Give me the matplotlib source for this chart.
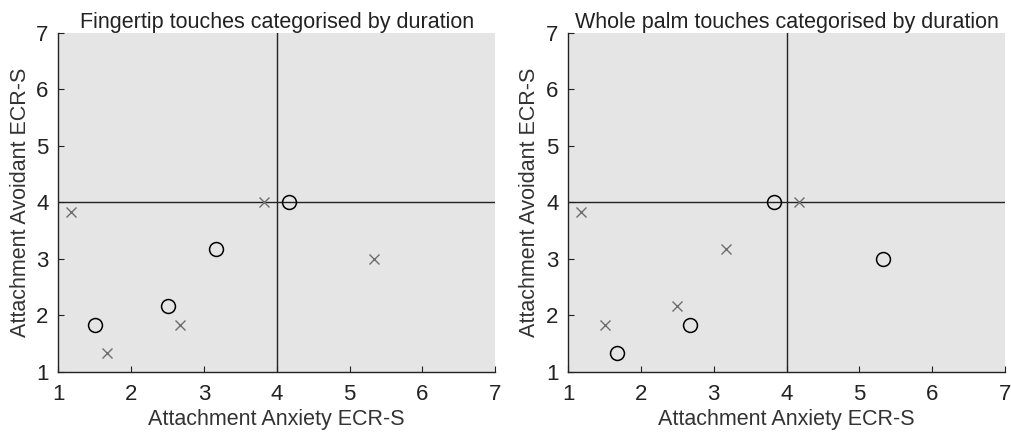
import matplotlib
matplotlib.use("Agg")
from matplotlib import pyplot as plt

plt.rcParams['font.family'] = ['Liberation Sans', 'DejaVu Sans']

# fingertip touches
finger_o_x = [1.5, 2.5, 3.17, 4.17]
finger_o_y = [1.83, 2.17, 3.17, 4.0]
finger_x_x = [1.17, 1.67, 2.67, 3.83, 5.33]
finger_x_y = [3.83, 1.33, 1.83, 4.0, 3.0]

# whole palm touches
palm_o_x = [1.67, 2.67, 3.83, 5.33]
palm_o_y = [1.33, 1.83, 4.0, 3.0]
palm_x_x = [1.17, 1.5, 2.5, 3.17, 4.17]
palm_x_y = [3.83, 1.83, 2.17, 3.17, 4.0]

titles = ["Fingertip touches categorised by duration",
          "Whole palm touches categorised by duration"]
ticks = [1, 2, 3, 4, 5, 6, 7]

fig = plt.figure(figsize=(10.11, 4.34), dpi=100)
ax1 = fig.add_axes([0.0577, 0.1435, 0.432, 0.781])
ax2 = fig.add_axes([0.562, 0.1435, 0.432, 0.781])

data = [(finger_o_x, finger_o_y, finger_x_x, finger_x_y),
        (palm_o_x, palm_o_y, palm_x_x, palm_x_y)]

for ax, title, (ox, oy, xx, xy) in zip([ax1, ax2], titles, data):
    ax.set_facecolor('#e5e5e5')
    ax.axvline(4, color='#222222', lw=1, zorder=1)
    ax.axhline(4, color='#222222', lw=1, zorder=1)
    ax.plot(ox, oy, 'o', mfc='none', mec='black', ms=10, mew=1.1, zorder=3)
    ax.plot(xx, xy, 'x', color='#6e6e6e', ms=7.5, mew=1.0, zorder=3)
    ax.set_xlim(1, 7)
    ax.set_ylim(1, 7)
    ax.set_xticks(ticks)
    ax.set_yticks(ticks)
    ax.tick_params(direction='in', length=4, labelsize=16, colors='#222222')
    ax.tick_params(axis='x', pad=9)
    ax.tick_params(axis='y', pad=7)
    for s in ['top', 'right']:
        ax.spines[s].set_visible(False)
    for s in ['left', 'bottom']:
        ax.spines[s].set_color('#222222')
        ax.spines[s].set_linewidth(1)
    ax.set_title(title, fontsize=15.5, pad=2, color='#222222')
    ax.set_xlabel("Attachment Anxiety ECR-S", fontsize=15.5, color='#333333', labelpad=3)
    ax.set_ylabel("Attachment Avoidant ECR-S", fontsize=15.5, color='#333333', labelpad=4)

fig.savefig("out.png", dpi=100)
